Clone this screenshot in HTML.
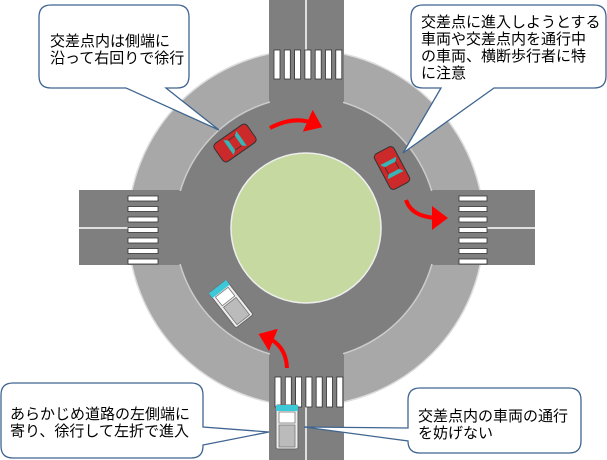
<!DOCTYPE html>
<html><head><meta charset="utf-8"><style>
html,body{margin:0;padding:0;background:#fff;width:607px;height:460px;overflow:hidden}
svg{display:block}
text{font-family:"Liberation Sans","Noto Sans CJK JP",sans-serif;font-size:15px;fill:#000}
</style></head><body>
<svg width="607" height="460" viewBox="0 0 607 460">
<defs>
<marker id="ah" markerWidth="6" markerHeight="6" refX="2" refY="3" orient="auto" markerUnits="strokeWidth"><path d="M0,0 L4,3 L0,6 z" fill="#f00"/></marker>
<g id="car">
<rect x="-20" y="-11" width="40" height="22" rx="4" fill="#cc2a2a" stroke="#333" stroke-width="1"/>
<path d="M-8,-9 L-4,-6 L-4,6 L-8,9 Z" fill="#38b5b5"/>
<path d="M8,-9 L4,-6 L4,6 L8,9 Z" fill="#38b5b5"/>
<path d="M-4,-6 L4,-6 M-4,6 L4,6" stroke="#333" stroke-width="0.8"/>
</g>
<g id="truck">
<rect x="-11" y="-22" width="22" height="44" rx="2" fill="#eee" stroke="#666" stroke-width="1"/>
<rect x="-11" y="-22" width="22" height="6" fill="#3cc8d8"/>
<rect x="-8" y="-15" width="16" height="11" fill="#fff" stroke="#777" stroke-width="0.8"/>
<rect x="-8" y="-2" width="16" height="22" fill="#bbb" stroke="#777" stroke-width="0.8"/>
</g>
</defs>
<rect width="607" height="460" fill="#fff"/>
<circle cx="306" cy="228" r="178" fill="#a8a8a8" stroke="#ddd" stroke-width="1.5"/>
<rect x="269" y="0" width="75" height="120" fill="#7f7f7f"/>
<rect x="269" y="340" width="75" height="120" fill="#7f7f7f"/>
<rect x="79" y="190" width="456" height="75" fill="#7f7f7f"/>
<circle cx="306" cy="228" r="131" fill="#7f7f7f" stroke="#ccc" stroke-width="1.5"/>
<rect x="270" y="0" width="73" height="110" fill="#7f7f7f"/>
<rect x="270" y="350" width="73" height="110" fill="#7f7f7f"/>
<rect x="80" y="191" width="454" height="73" fill="#7f7f7f"/>
<line x1="306" y1="0" x2="306" y2="50" stroke="#fff" stroke-width="1.5"/>
<line x1="306" y1="407" x2="306" y2="460" stroke="#fff" stroke-width="1.5"/>
<line x1="79" y1="228" x2="128" y2="228" stroke="#fff" stroke-width="1.5"/>
<line x1="487" y1="228" x2="535" y2="228" stroke="#fff" stroke-width="1.5"/>
<circle cx="306" cy="228" r="75" fill="#c6d9a0" stroke="#eee" stroke-width="1.5"/>
<g fill="#fff" stroke="#333" stroke-width="0.8">
<rect x="274" y="50" width="6" height="29"/><rect x="284.3" y="50" width="6" height="29"/><rect x="294.6" y="50" width="6" height="29"/><rect x="304.9" y="50" width="6" height="29"/><rect x="315.2" y="50" width="6" height="29"/><rect x="325.5" y="50" width="6" height="29"/><rect x="335.8" y="50" width="6" height="29"/>
<rect x="275" y="377" width="6" height="30"/><rect x="285.3" y="377" width="6" height="30"/><rect x="295.6" y="377" width="6" height="30"/><rect x="305.9" y="377" width="6" height="30"/><rect x="316.2" y="377" width="6" height="30"/><rect x="326.5" y="377" width="6" height="30"/><rect x="336.8" y="377" width="6" height="30"/>
<rect x="128" y="196" width="30" height="5"/><rect x="128" y="206.5" width="30" height="5"/><rect x="128" y="217" width="30" height="5"/><rect x="128" y="227.5" width="30" height="5"/><rect x="128" y="238" width="30" height="5"/><rect x="128" y="248.5" width="30" height="5"/><rect x="128" y="259" width="30" height="5"/>
<rect x="459" y="196" width="28" height="5"/><rect x="459" y="206.5" width="28" height="5"/><rect x="459" y="217" width="28" height="5"/><rect x="459" y="227.5" width="28" height="5"/><rect x="459" y="238" width="28" height="5"/><rect x="459" y="248.5" width="28" height="5"/><rect x="459" y="259" width="28" height="5"/>
</g>
<use href="#car" transform="translate(235,143) rotate(-35)"/>
<use href="#car" transform="translate(392,168) rotate(62)"/>
<use href="#truck" transform="translate(231,304) rotate(-38)"/>
<use href="#truck" transform="translate(287,427)"/>
<g fill="none" stroke="#f00" stroke-width="4">
<path d="M270,128 Q295,115 315,124" marker-end="url(#ah)"/>
<path d="M406,200 Q412,218 440,218" marker-end="url(#ah)"/>
<path d="M287,368 Q286,345 266,337" marker-end="url(#ah)"/>
</g>
<g fill="#fff" stroke="#3f6590" stroke-width="1.3">
<path d="M51,5 H177 Q189,5 189,17 V76 Q189,88 177,88 H166 L219,130 L126,88 H51 Q39,88 39,76 V17 Q39,5 51,5 Z"/>
<path d="M423,5 H594 Q606,5 606,17 V76 Q606,88 594,88 H494 L403,153 L441,88 H423 Q411,88 411,76 V17 Q411,5 423,5 Z"/>
<path d="M13,383 H191 Q203,383 203,395 V427 L269,432 L203,445 V446 Q203,458 191,458 H13 Q1,458 1,446 V395 Q1,383 13,383 Z"/>
<path d="M420,388 H569 Q581,388 581,400 V441 Q581,453 569,453 H420 Q408,453 408,441 L304,427 L408,428 V400 Q408,388 420,388 Z"/>
</g>
<text x="50" y="46">交差点内は側端に</text>
<text x="50" y="63">沿って右回りで徐行</text>
<text x="421" y="27">交差点に進入しようとする</text>
<text x="421" y="44">車両や交差点内を通行中</text>
<text x="421" y="61">の車両、横断歩行者に特</text>
<text x="421" y="78">に注意</text>
<text x="10" y="419">あらかじめ道路の左側端に</text>
<text x="10" y="436">寄り、徐行して左折で進入</text>
<text x="418" y="421">交差点内の車両の通行</text>
<text x="418" y="438">を妨げない</text>
</svg>
</body></html>
